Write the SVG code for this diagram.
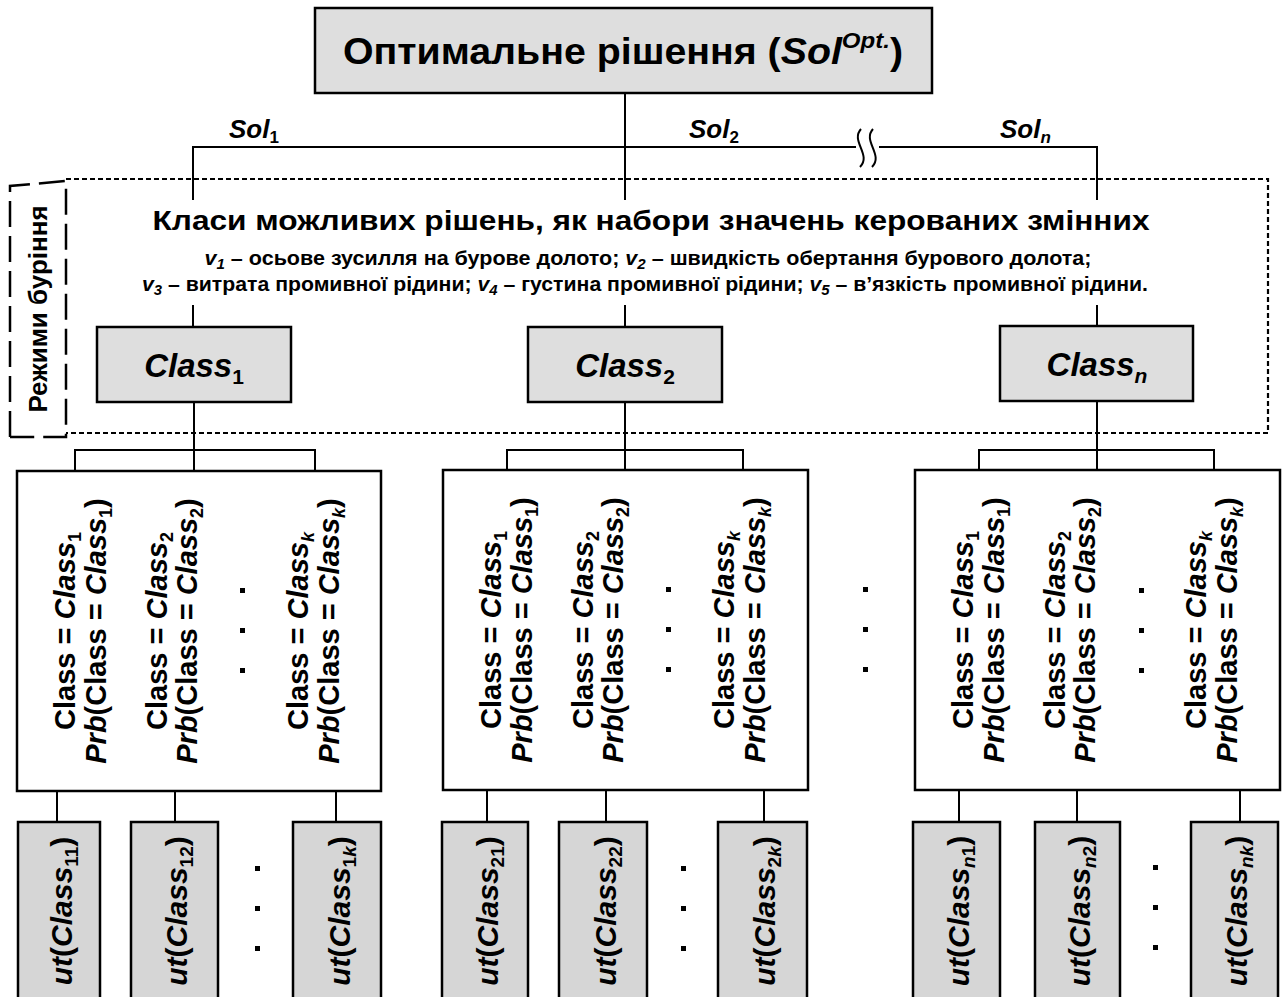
<svg xmlns="http://www.w3.org/2000/svg" width="1284" height="997" viewBox="0 0 1284 997">
<style>
.t{font-family:"Liberation Sans",Arial,sans-serif;font-weight:bold;fill:#000}
.i{font-style:italic}
.box{fill:#dedede;stroke:#000;stroke-width:2.5}
.ubox{fill:#d6d6d6;stroke:#000;stroke-width:2.5}
.wbox{fill:#fff;stroke:#000;stroke-width:2.5}
.ln{stroke:#000;stroke-width:2;fill:none}
.dot{stroke:#000;stroke-width:2.2;stroke-dasharray:5 3;fill:none}
.dash{stroke:#000;stroke-width:2.5;stroke-dasharray:26 9;fill:none}
.c{font-size:29px}
.u{font-size:30px}
.sq{fill:#000}
</style>
<rect width="1284" height="997" fill="#fff"/>

<g id="region">
<path class="dot" d="M66,179 H1268 V433 H66"/>
<path class="dash" d="M10,437 V186 L66,181 V437 H10"/>
<text class="t" font-size="26" transform="translate(47,309) rotate(-90)" text-anchor="middle">Режими буріння</text>
</g>

<g id="connectors">
<path class="ln" d="M625,93 V147"/>
<path class="ln" d="M193,200 V147 H856 M879,147 H1097 V200 M625,147 V200"/>
<path class="ln" d="M861,129 C850,141 872,155 860,167 M873,129 C862,141 884,155 872,167"/>
<path class="ln" d="M193,305 V327 M625,305 V327 M1097,305 V326"/>
<path class="ln" d="M194,402 V471 M75,471 V450 H315 V471"/>
<path class="ln" d="M625,402 V470 M507,470 V450 H743 V470"/>
<path class="ln" d="M1097,401 V470 M979,470 V450 H1214 V470"/>
<path class="ln" d="M57,791 V822 M175,791 V822 M336,791 V822"/>
<path class="ln" d="M487,790 V822 M606,790 V822 M764,790 V822"/>
<path class="ln" d="M959,790 V822 M1077,790 V822 M1240,790 V822"/>
</g>

<g id="sol-labels" class="t i" font-size="26">
<text x="229" y="138">Sol<tspan font-style="normal" font-size="17" dy="5">1</tspan></text>
<text x="689" y="138">Sol<tspan font-style="normal" font-size="17" dy="5">2</tspan></text>
<text x="1000" y="138">Sol<tspan font-size="17" dy="5">n</tspan></text>
</g>

<g id="top">
<rect class="box" x="315" y="8" width="617" height="85"/>
<text class="t" font-size="36" x="623" y="64" text-anchor="middle" textLength="560" lengthAdjust="spacingAndGlyphs">Оптимальне рішення (<tspan class="i">Sol</tspan><tspan class="i" font-size="22" dy="-16">Opt.</tspan><tspan dy="16">)</tspan></text>
</g>

<g id="classes-title">
<text class="t" font-size="28" x="651" y="230" text-anchor="middle" textLength="997" lengthAdjust="spacingAndGlyphs">Класи можливих рішень, як набори значень керованих змінних</text>
<text class="t" font-size="20" x="648" y="265" text-anchor="middle" textLength="887" lengthAdjust="spacingAndGlyphs"><tspan class="i">v</tspan><tspan class="i" font-size="14" dy="4">1</tspan><tspan dy="-4"> – осьове зусилля на бурове долото; </tspan><tspan class="i">v</tspan><tspan class="i" font-size="14" dy="4">2</tspan><tspan dy="-4"> – швидкість обертання бурового долота;</tspan></text>
<text class="t" font-size="20" x="645" y="291" text-anchor="middle" textLength="1006" lengthAdjust="spacingAndGlyphs"><tspan class="i">v</tspan><tspan class="i" font-size="14" dy="4">3</tspan><tspan dy="-4"> – витрата промивної рідини; </tspan><tspan class="i">v</tspan><tspan class="i" font-size="14" dy="4">4</tspan><tspan dy="-4"> – густина промивної рідини; </tspan><tspan class="i">v</tspan><tspan class="i" font-size="14" dy="4">5</tspan><tspan dy="-4"> – в’язкість промивної рідини.</tspan></text>
</g>

<g id="class1">
<rect class="box" x="97" y="327" width="194" height="75"/>
<text class="t i" font-size="33" x="194" y="377" text-anchor="middle">Class<tspan font-style="normal" font-size="21" dy="7">1</tspan></text>
</g>
<g id="class2">
<rect class="box" x="528" y="327" width="194" height="75"/>
<text class="t i" font-size="33" x="625" y="377" text-anchor="middle">Class<tspan font-style="normal" font-size="21" dy="7">2</tspan></text>
</g>
<g id="classn">
<rect class="box" x="1000" y="326" width="193" height="75"/>
<text class="t i" font-size="33" x="1097" y="376" text-anchor="middle">Class<tspan font-size="21" dy="7">n</tspan></text>
</g>

<g id="group1">
<rect class="wbox" x="17" y="471" width="364" height="320"/>
<text class="t c" transform="translate(75,631) rotate(-90)" text-anchor="middle">Class = <tspan class="i">Class</tspan><tspan font-size="18" dy="6">1</tspan></text>
<text class="t c" transform="translate(106,631) rotate(-90)" text-anchor="middle"><tspan class="i">Prb</tspan>(Class = <tspan class="i">Class</tspan><tspan font-size="18" dy="6">1</tspan><tspan dy="-6">)</tspan></text>
<text class="t c" transform="translate(167,631) rotate(-90)" text-anchor="middle">Class = <tspan class="i">Class</tspan><tspan font-size="18" dy="6">2</tspan></text>
<text class="t c" transform="translate(197,631) rotate(-90)" text-anchor="middle"><tspan class="i">Prb</tspan>(Class = <tspan class="i">Class</tspan><tspan font-size="18" dy="6">2</tspan><tspan dy="-6">)</tspan></text>
<rect class="sq" x="240" y="588" width="5" height="5"/><rect class="sq" x="240" y="628" width="5" height="5"/><rect class="sq" x="240" y="668" width="5" height="5"/>
<text class="t c" transform="translate(308,631) rotate(-90)" text-anchor="middle">Class = <tspan class="i">Class</tspan><tspan class="i" font-size="18" dy="6">k</tspan></text>
<text class="t c" transform="translate(339,631) rotate(-90)" text-anchor="middle"><tspan class="i">Prb</tspan>(Class = <tspan class="i">Class</tspan><tspan class="i" font-size="18" dy="6">k</tspan><tspan dy="-6">)</tspan></text>
</g>

<g id="group2">
<rect class="wbox" x="443" y="470" width="365" height="320"/>
<text class="t c" transform="translate(501,630) rotate(-90)" text-anchor="middle">Class = <tspan class="i">Class</tspan><tspan font-size="18" dy="6">1</tspan></text>
<text class="t c" transform="translate(532,630) rotate(-90)" text-anchor="middle"><tspan class="i">Prb</tspan>(Class = <tspan class="i">Class</tspan><tspan font-size="18" dy="6">1</tspan><tspan dy="-6">)</tspan></text>
<text class="t c" transform="translate(593,630) rotate(-90)" text-anchor="middle">Class = <tspan class="i">Class</tspan><tspan font-size="18" dy="6">2</tspan></text>
<text class="t c" transform="translate(623,630) rotate(-90)" text-anchor="middle"><tspan class="i">Prb</tspan>(Class = <tspan class="i">Class</tspan><tspan font-size="18" dy="6">2</tspan><tspan dy="-6">)</tspan></text>
<rect class="sq" x="666" y="587" width="5" height="5"/><rect class="sq" x="666" y="627" width="5" height="5"/><rect class="sq" x="666" y="667" width="5" height="5"/>
<text class="t c" transform="translate(734,630) rotate(-90)" text-anchor="middle">Class = <tspan class="i">Class</tspan><tspan class="i" font-size="18" dy="6">k</tspan></text>
<text class="t c" transform="translate(765,630) rotate(-90)" text-anchor="middle"><tspan class="i">Prb</tspan>(Class = <tspan class="i">Class</tspan><tspan class="i" font-size="18" dy="6">k</tspan><tspan dy="-6">)</tspan></text>
</g>

<g id="between-dots">
<rect class="sq" x="863" y="587" width="5" height="5"/><rect class="sq" x="863" y="627" width="5" height="5"/><rect class="sq" x="863" y="667" width="5" height="5"/>
</g>

<g id="group3">
<rect class="wbox" x="915" y="470" width="365" height="320"/>
<text class="t c" transform="translate(973,630) rotate(-90)" text-anchor="middle">Class = <tspan class="i">Class</tspan><tspan font-size="18" dy="6">1</tspan></text>
<text class="t c" transform="translate(1004,630) rotate(-90)" text-anchor="middle"><tspan class="i">Prb</tspan>(Class = <tspan class="i">Class</tspan><tspan font-size="18" dy="6">1</tspan><tspan dy="-6">)</tspan></text>
<text class="t c" transform="translate(1065,630) rotate(-90)" text-anchor="middle">Class = <tspan class="i">Class</tspan><tspan font-size="18" dy="6">2</tspan></text>
<text class="t c" transform="translate(1095,630) rotate(-90)" text-anchor="middle"><tspan class="i">Prb</tspan>(Class = <tspan class="i">Class</tspan><tspan font-size="18" dy="6">2</tspan><tspan dy="-6">)</tspan></text>
<rect class="sq" x="1139" y="588" width="5" height="5"/><rect class="sq" x="1139" y="628" width="5" height="5"/><rect class="sq" x="1139" y="668" width="5" height="5"/>
<text class="t c" transform="translate(1206,630) rotate(-90)" text-anchor="middle">Class = <tspan class="i">Class</tspan><tspan class="i" font-size="18" dy="6">k</tspan></text>
<text class="t c" transform="translate(1237,630) rotate(-90)" text-anchor="middle"><tspan class="i">Prb</tspan>(Class = <tspan class="i">Class</tspan><tspan class="i" font-size="18" dy="6">k</tspan><tspan dy="-6">)</tspan></text>
</g>

<g id="ut11"><rect class="ubox" x="18" y="822" width="82" height="190"/><text class="t u" transform="translate(72,911) rotate(-90)" text-anchor="middle"><tspan class="i">ut</tspan>(<tspan class="i">Class</tspan><tspan font-size="19" dy="6">11</tspan><tspan dy="-6">)</tspan></text></g>
<g id="ut12"><rect class="ubox" x="131" y="822" width="87" height="190"/><text class="t u" transform="translate(187,911) rotate(-90)" text-anchor="middle"><tspan class="i">ut</tspan>(<tspan class="i">Class</tspan><tspan font-size="19" dy="6">12</tspan><tspan dy="-6">)</tspan></text></g>
<g id="dots1"><rect class="sq" x="255" y="866" width="5" height="5"/><rect class="sq" x="255" y="906" width="5" height="5"/><rect class="sq" x="255" y="946" width="5" height="5"/></g>
<g id="ut1k"><rect class="ubox" x="293" y="822" width="88" height="190"/><text class="t u" transform="translate(350,911) rotate(-90)" text-anchor="middle"><tspan class="i">ut</tspan>(<tspan class="i">Class</tspan><tspan font-size="19" dy="6">1<tspan class="i">k</tspan></tspan><tspan dy="-6">)</tspan></text></g>

<g id="ut21"><rect class="ubox" x="442" y="822" width="86" height="190"/><text class="t u" transform="translate(498,911) rotate(-90)" text-anchor="middle"><tspan class="i">ut</tspan>(<tspan class="i">Class</tspan><tspan font-size="19" dy="6">21</tspan><tspan dy="-6">)</tspan></text></g>
<g id="ut22"><rect class="ubox" x="559" y="822" width="88" height="190"/><text class="t u" transform="translate(616,911) rotate(-90)" text-anchor="middle"><tspan class="i">ut</tspan>(<tspan class="i">Class</tspan><tspan font-size="19" dy="6">22</tspan><tspan dy="-6">)</tspan></text></g>
<g id="dots2"><rect class="sq" x="681" y="866" width="5" height="5"/><rect class="sq" x="681" y="906" width="5" height="5"/><rect class="sq" x="681" y="946" width="5" height="5"/></g>
<g id="ut2k"><rect class="ubox" x="718" y="822" width="89" height="190"/><text class="t u" transform="translate(775,911) rotate(-90)" text-anchor="middle"><tspan class="i">ut</tspan>(<tspan class="i">Class</tspan><tspan font-size="19" dy="6">2<tspan class="i">k</tspan></tspan><tspan dy="-6">)</tspan></text></g>

<g id="utn1"><rect class="ubox" x="913" y="822" width="87" height="190"/><text class="t u" transform="translate(969,911) rotate(-90)" text-anchor="middle"><tspan class="i">ut</tspan>(<tspan class="i">Class</tspan><tspan class="i" font-size="19" dy="6">n<tspan font-style="normal">1</tspan></tspan><tspan dy="-6">)</tspan></text></g>
<g id="utn2"><rect class="ubox" x="1035" y="822" width="85" height="190"/><text class="t u" transform="translate(1090,911) rotate(-90)" text-anchor="middle"><tspan class="i">ut</tspan>(<tspan class="i">Class</tspan><tspan class="i" font-size="19" dy="6">n<tspan font-style="normal">2</tspan></tspan><tspan dy="-6">)</tspan></text></g>
<g id="dots3"><rect class="sq" x="1153" y="865" width="5" height="5"/><rect class="sq" x="1153" y="905" width="5" height="5"/><rect class="sq" x="1153" y="945" width="5" height="5"/></g>
<g id="utnk"><rect class="ubox" x="1191" y="822" width="87" height="190"/><text class="t u" transform="translate(1247,911) rotate(-90)" text-anchor="middle"><tspan class="i">ut</tspan>(<tspan class="i">Class</tspan><tspan class="i" font-size="19" dy="6">nk</tspan><tspan dy="-6">)</tspan></text></g>
</svg>
